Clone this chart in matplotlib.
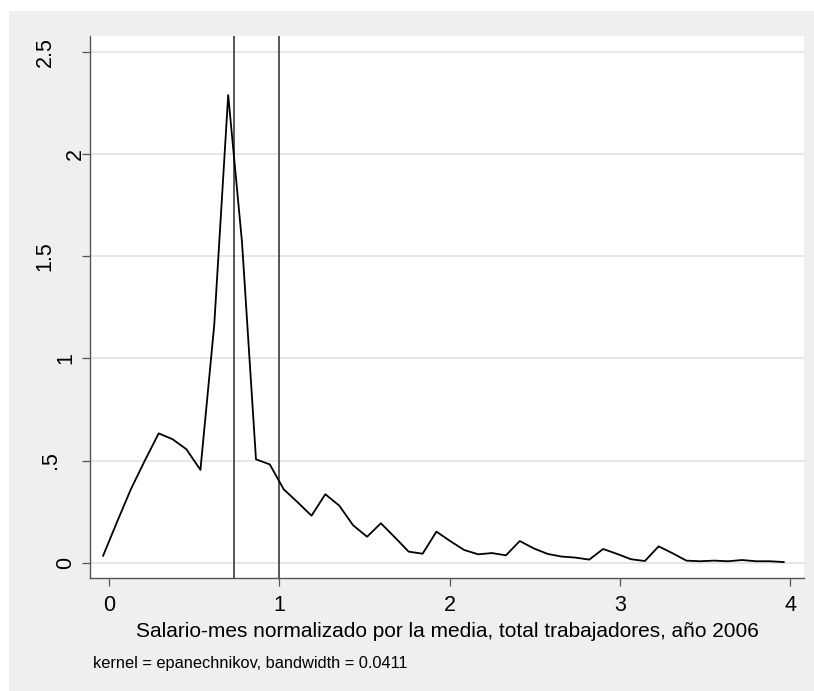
import matplotlib
matplotlib.use("Agg")
import matplotlib.pyplot as plt
from matplotlib.patches import Rectangle
from matplotlib.transforms import blended_transform_factory

# kdensity evaluation grid (50 points) and estimated density
x_grid = [-0.033, 0.049, 0.130, 0.212, 0.293, 0.375, 0.456, 0.538, 0.619, 0.701,
          0.782, 0.864, 0.945, 1.027, 1.108, 1.190, 1.271, 1.353, 1.434, 1.516,
          1.597, 1.679, 1.760, 1.842, 1.923, 2.005, 2.086, 2.168, 2.249, 2.331,
          2.412, 2.494, 2.575, 2.657, 2.738, 2.820, 2.901, 2.983, 3.064, 3.146,
          3.227, 3.309, 3.390, 3.472, 3.553, 3.635, 3.716, 3.798, 3.879, 3.961]
density = [0.034, 0.200, 0.360, 0.500, 0.633, 0.604, 0.555, 0.454, 1.163, 2.289,
           1.569, 0.506, 0.481, 0.359, 0.296, 0.230, 0.335, 0.279, 0.183, 0.127,
           0.193, 0.124, 0.054, 0.044, 0.152, 0.105, 0.062, 0.041, 0.047, 0.036,
           0.106, 0.070, 0.043, 0.030, 0.025, 0.015, 0.067, 0.043, 0.017, 0.008,
           0.080, 0.046, 0.010, 0.007, 0.010, 0.007, 0.013, 0.007, 0.007, 0.003]

# reference lines (minimum wage / mean)
vlines = [0.736, 1.0]

xticks = [0, 1, 2, 3, 4]
yticks = [0, 0.5, 1, 1.5, 2, 2.5]
yticklabels = ["0", ".5", "1", "1.5", "2", "2.5"]

plt.rcParams['font.family'] = ['Liberation Sans', 'DejaVu Sans']

W, H = 814, 691
fig = plt.figure(figsize=(W / 100, H / 100), dpi=100, facecolor="white")
fig.patches.append(Rectangle((9 / W, 0), 1 - 9 / W, 1 - 11 / H,
                             transform=fig.transFigure, facecolor="#efefef",
                             edgecolor="none", zorder=-10))

ax = fig.add_axes([90 / W, 1 - 578 / H, (804 - 90) / W, (578 - 36) / H])
ax.set_facecolor("white")

ax.plot(x_grid, density, color="black", linewidth=1.3, zorder=3)
for v in vlines:
    ax.axvline(v, color="#3a3a3a", linewidth=1.2, zorder=2)

ax.set_xlim(-0.110, 4.08)
ax.set_ylim(-0.075, 2.578)

ax.set_xticks(xticks)
ax.set_yticks(yticks)
ax.set_yticklabels([])
ax.yaxis.grid(True, color="#e6e6e6", linewidth=1.4)
ax.set_axisbelow(True)

for side in ["top", "right"]:
    ax.spines[side].set_visible(False)
for side in ["left", "bottom"]:
    ax.spines[side].set_color("#555555")
    ax.spines[side].set_linewidth(1.0)

ax.tick_params(axis="both", direction="out", length=6, width=0.9,
               color="#555555", labelsize=15.5, pad=6)

# vertical y labels, Stata-style offsets (pixel centre of each label)
ylab_x = [66, 50, 66, 45, 75, 45]
ytrans = blended_transform_factory(fig.transFigure, ax.transData)
for yv, lab, px in zip(yticks, yticklabels, ylab_x):
    ax.text(px / W, yv, lab, transform=ytrans, rotation=90,
            ha="center", va="center", fontsize=15.5)

fig.text(447.5 / W, 1 - 637 / H,
         "Salario-mes normalizado por la media, total trabajadores, año 2006",
         fontsize=15, ha="center", va="baseline")
fig.text(93 / W, 1 - 668 / H, "kernel = epanechnikov, bandwidth = 0.0411",
         fontsize=11.8, ha="left", va="baseline")

fig.savefig("out.png", dpi=100, facecolor=fig.get_facecolor())
